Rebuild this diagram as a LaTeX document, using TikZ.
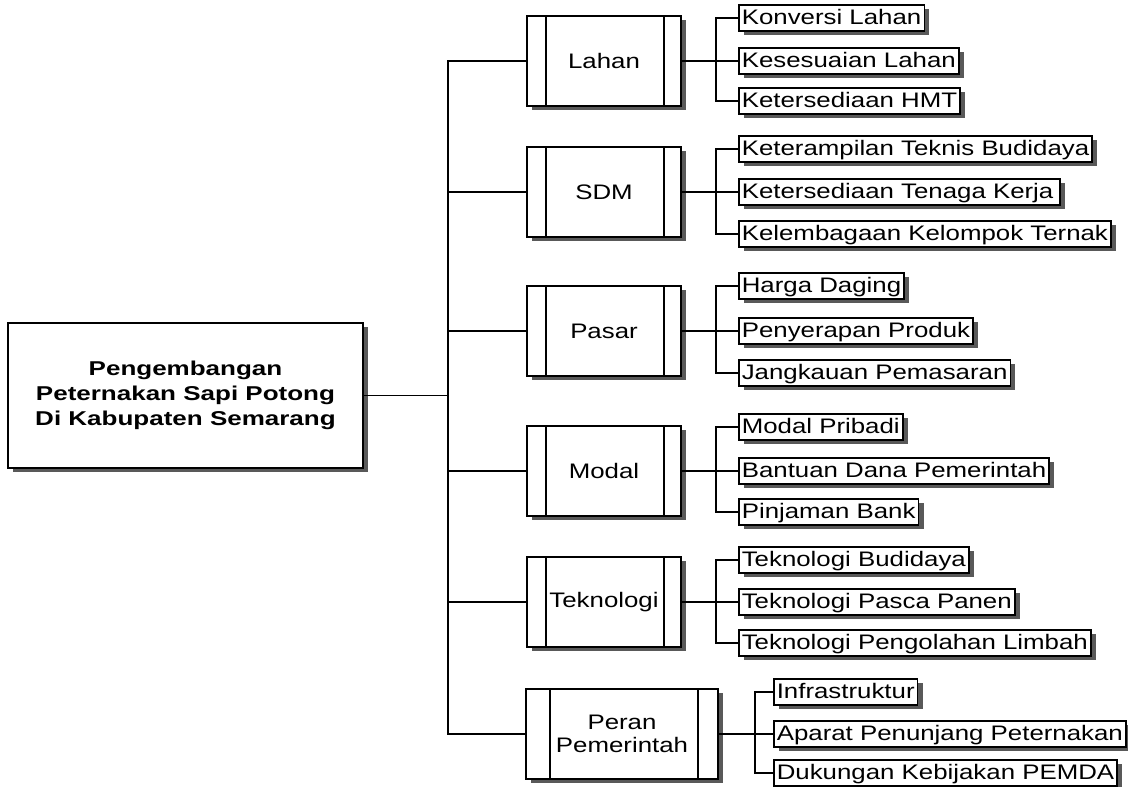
\documentclass[tikz,border=0pt]{standalone}
\usepackage{fontspec}
\setmainfont{Liberation Sans}[FakeStretch=1.23]
\newfontfamily\mainboxfont{Liberation Sans}[FakeStretch=1.3]
\usetikzlibrary{shadows}
\begin{document}
\begin{tikzpicture}[x=1pt,y=-1pt, line width=1.6pt,
  shad/.style={drop shadow={shadow xshift=5pt,shadow yshift=-4pt,fill=black!65,opacity=1}},
  mainbox/.style={draw,fill=white,shad,minimum width=355pt,minimum height=145pt,align=center,
    font=\mainboxfont\bfseries\fontsize{20}{25}\selectfont},
  procbox/.style={draw,fill=white,shad,minimum width=154pt,minimum height=90pt,align=center,
    font=\fontsize{21}{23}\selectfont},
  leaf/.style={draw,fill=white,shad,anchor=west,minimum height=26pt,inner xsep=3pt,inner ysep=0pt,
    text height=16pt,text depth=4pt,font=\fontsize{21}{23}\selectfont},
  conn/.style={line width=1.6pt}]
\useasboundingbox (0,0) rectangle (1128,787);

% main box
\node[mainbox] (main) at (185.5,395.5) {Pengembangan\\Peternakan Sapi Potong\\Di Kabupaten Semarang};

% process boxes
\node[procbox] (lahan) at (604,61) {Lahan};
\node[procbox] (sdm) at (604,192) {SDM};
\node[procbox] (pasar) at (604,331) {Pasar};
\node[procbox] (modal) at (604,471) {Modal};
\node[procbox] (tekno) at (604,602) {Teknologi};
\node[procbox,minimum width=192pt] (peran) at (622,734) {Peran\\Pemerintah};

\foreach \n/\a/\b in {lahan/20/18,sdm/20/18,pasar/20/18,modal/20/18,tekno/20/18,peran/25/21}{
  \draw ([xshift=\a pt]\n.north west) -- ([xshift=\a pt]\n.south west);
  \draw ([xshift=-\b pt]\n.north east) -- ([xshift=-\b pt]\n.south east);
}

% leaves
\node[leaf] (l1) at (738,18) {Konversi Lahan};
\node[leaf] (l2) at (738,61) {Kesesuaian Lahan};
\node[leaf] (l3) at (738,101) {Ketersediaan HMT};

\node[leaf] (s1) at (738,149) {Keterampilan Teknis Budidaya};
\node[leaf] (s2) at (738,192) {Ketersediaan Tenaga Kerja\,};
\node[leaf] (s3) at (738,234) {Kelembagaan Kelompok Ternak};

\node[leaf] (p1) at (738,286) {Harga Daging};
\node[leaf] (p2) at (738,331) {Penyerapan Produk};
\node[leaf] (p3) at (738,373) {Jangkauan Pemasaran};

\node[leaf] (m1) at (738,427) {Modal Pribadi};
\node[leaf] (m2) at (738,471) {Bantuan Dana Pemerintah};
\node[leaf] (m3) at (738,512) {Pinjaman Bank};

\node[leaf] (t1) at (738,560) {Teknologi Budidaya};
\node[leaf] (t2) at (738,602) {Teknologi Pasca Panen};
\node[leaf] (t3) at (738,643) {Teknologi Pengolahan Limbah};

\node[leaf] (r1) at (773,692) {Infrastruktur};
\node[leaf] (r2) at (773,734) {Aparat Penunjang Peternakan};
\node[leaf] (r3) at (773,773) {Dukungan Kebijakan PEMDA};

% trunk
\coordinate (T) at (448,0);
\draw[conn] (lahan.west) -| (T |- peran.west) -- (peran.west);
\draw[conn] (main.east) -- (main.east -| T);
\foreach \n in {sdm,pasar,modal,tekno}{
  \draw[conn] (\n.west) -- (\n.west -| T);
}

% leaf connectors
\foreach \g/\a/\b/\c/\d in {lahan/l1/l2/l3/22,sdm/s1/s2/s3/22,pasar/p1/p2/p3/22,modal/m1/m2/m3/22,tekno/t1/t2/t3/22,peran/r1/r2/r3/18}{
  \draw[conn] (\g.east) -- (\b.west);
  \draw[conn] (\a.west) -- ++(-\d,0) |- (\c.west);
}
\end{tikzpicture}
\end{document}
